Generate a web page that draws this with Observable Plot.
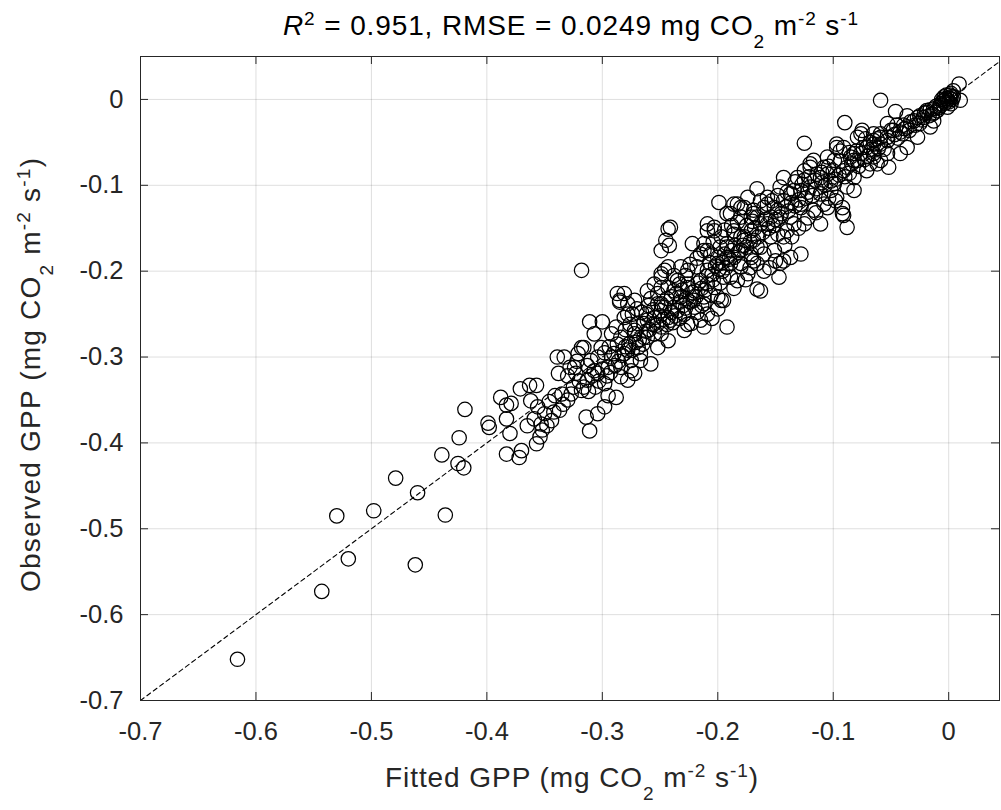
<!DOCTYPE html>
<html><head><meta charset="utf-8">
<script src="https://cdn.jsdelivr.net/npm/d3@7"></script>
<script src="https://cdn.jsdelivr.net/npm/@observablehq/plot@0.6"></script>
<style>html,body{margin:0;padding:0;background:#fff;}</style>
</head><body><div id="chart"></div>
<script>
// ---------- data ----------
const xTicks = [-0.7, -0.6, -0.5, -0.4, -0.3, -0.2, -0.1, 0];
const yTicks = [-0.7, -0.6, -0.5, -0.4, -0.3, -0.2, -0.1, 0];
const xDomain = [-0.7, 0.044];
const yDomain = [-0.7, 0.05];
const oneToOne = [-0.7, 0.05];
const titleParts = [{t:"R", it:true},{t:"2", sup:true},{t:" = 0.951, RMSE = 0.0249 mg CO"},{t:"2", sub:true},{t:" m"},{t:"-2", sup:true},{t:" s"},{t:"-1", sup:true}];
const xLabelParts = [{t:"Fitted GPP (mg CO"},{t:"2", sub:true},{t:" m"},{t:"-2", sup:true},{t:" s"},{t:"-1", sup:true},{t:")"}];
const yLabelParts = [{t:"Observed GPP (mg CO"},{t:"2", sub:true},{t:" m"},{t:"-2", sup:true},{t:" s"},{t:"-1", sup:true},{t:")"}];
// [fitted, observed]
const gpp = [
[-0.616,-0.652],[-0.543,-0.573],[-0.520,-0.535],[-0.462,-0.542],[-0.530,-0.485],[-0.498,-0.479],[-0.436,-0.484],[-0.460,-0.458],[-0.479,-0.441],[-0.439,-0.414],[-0.425,-0.424],[-0.420,-0.429],[-0.424,-0.394],[-0.419,-0.361],[-0.399,-0.377],[-0.398,-0.382],
[-0.318,-0.199],[-0.388,-0.347],[-0.383,-0.356],[-0.379,-0.354],[-0.371,-0.337],[-0.363,-0.333],[-0.357,-0.333],[-0.362,-0.351],[-0.383,-0.372],[-0.380,-0.389],[-0.383,-0.413],[-0.370,-0.409],[-0.372,-0.417],[-0.356,-0.358],[-0.350,-0.366],[-0.353,-0.378],[-0.344,-0.374],[-0.354,-0.393],[-0.357,-0.401],[-0.341,-0.345],[-0.339,-0.300],[-0.338,-0.319],[-0.335,-0.343],[-0.328,-0.312],[-0.323,-0.319],[-0.327,-0.343],[-0.318,-0.339],[-0.314,-0.370],[-0.311,-0.386],[-0.321,-0.296],[-0.316,-0.289],[-0.310,-0.304],[-0.313,-0.327],[-0.304,-0.319],[-0.298,-0.331],[-0.295,-0.345],[-0.288,-0.347],[-0.298,-0.358],[-0.304,-0.366],
[-0.311,-0.259],[-0.300,-0.259],[-0.307,-0.273],[-0.292,-0.273],[-0.287,-0.285],[-0.292,-0.300],[-0.281,-0.296],[-0.284,-0.312],[-0.275,-0.316],[-0.278,-0.327],[-0.287,-0.226],[-0.281,-0.226],[-0.285,-0.236],[-0.272,-0.234],[-0.261,-0.223],[-0.278,-0.250],[-0.269,-0.261],[-0.261,-0.257],[-0.272,-0.273],[-0.264,-0.277],[-0.269,-0.289],[-0.255,-0.273],[-0.252,-0.289],[-0.249,-0.265],[-0.243,-0.254],[-0.246,-0.242],[-0.252,-0.238],[-0.243,-0.219],[-0.246,-0.199],[-0.249,-0.176],[-0.245,-0.164],[-0.243,-0.151],[-0.249,-0.207],[-0.258,-0.308],[-0.267,-0.304],
[-0.242,-0.170],[-0.192,-0.265],[-0.166,-0.221],[-0.285,-0.234],[-0.278,-0.238],[-0.274,-0.250],[-0.281,-0.254],[-0.284,-0.277],[-0.272,-0.269],[-0.264,-0.261],[-0.255,-0.254],[-0.249,-0.246],[-0.261,-0.277],[-0.249,-0.273],[-0.243,-0.281],[-0.278,-0.292],[-0.290,-0.296],[-0.301,-0.289],[-0.318,-0.289],[-0.333,-0.300],[-0.324,-0.312],[-0.307,-0.316],[-0.295,-0.312],[-0.275,-0.304],[-0.267,-0.296],[-0.284,-0.323],[-0.272,-0.319],[-0.241,-0.257],[-0.238,-0.242],[-0.232,-0.230],[-0.249,-0.219],[-0.249,-0.203],[-0.243,-0.195],[-0.235,-0.211],[-0.226,-0.199],[-0.226,-0.219],[-0.229,-0.250],[-0.220,-0.242],[-0.223,-0.261],[-0.229,-0.269],[-0.212,-0.265],[-0.215,-0.257],[-0.209,-0.250],[-0.212,-0.230],[-0.215,-0.211],[-0.218,-0.195],[-0.209,-0.199],[-0.203,-0.219],[-0.195,-0.207],[-0.197,-0.234],[-0.200,-0.191],[-0.206,-0.180],[-0.212,-0.168],[-0.209,-0.153],[-0.203,-0.149],[-0.192,-0.172],[-0.186,-0.184],[-0.180,-0.195],[-0.174,-0.203],[-0.183,-0.211],[-0.189,-0.191],[-0.177,-0.164],[-0.171,-0.153],[-0.186,-0.153],[-0.180,-0.126],[-0.169,-0.133],[-0.166,-0.172],[-0.169,-0.188],[-0.209,-0.145],
[-0.241,-0.149],[-0.222,-0.168],[-0.203,-0.153],[-0.212,-0.176],[-0.255,-0.215],[-0.232,-0.195],[-0.226,-0.215],[-0.238,-0.223],[-0.200,-0.184],[-0.192,-0.168],[-0.180,-0.160],[-0.189,-0.207],[-0.180,-0.191],[-0.171,-0.180],[-0.163,-0.172],[-0.154,-0.160],[-0.157,-0.145],[-0.166,-0.137],[-0.209,-0.215],[-0.200,-0.230],[-0.212,-0.238],[-0.220,-0.223],[-0.249,-0.238],
[-0.199,-0.120],[-0.189,-0.133],[-0.180,-0.137],[-0.169,-0.129],[-0.157,-0.122],[-0.151,-0.126],[-0.174,-0.114],[-0.183,-0.122],[-0.166,-0.104],
[-0.137,-0.110],[-0.128,-0.106],[-0.120,-0.102],[-0.111,-0.110],[-0.102,-0.106],[-0.092,-0.126],[-0.092,-0.133],[-0.088,-0.149],[-0.082,-0.106],[-0.105,-0.126],[-0.111,-0.145],[-0.117,-0.129],[-0.128,-0.126],[-0.134,-0.145],[-0.146,-0.137],[-0.143,-0.160],[-0.128,-0.180],[-0.137,-0.184],[-0.146,-0.191],[-0.147,-0.207],[-0.163,-0.223],[-0.195,-0.234],
[-0.146,-0.102],[-0.143,-0.091],[-0.131,-0.091],[-0.125,-0.083],[-0.120,-0.079],[-0.117,-0.071],[-0.111,-0.091],[-0.108,-0.079],[-0.105,-0.067],[-0.099,-0.071],[-0.097,-0.052],[-0.094,-0.060],[-0.088,-0.079],[-0.082,-0.071],[-0.076,-0.063],[-0.065,-0.067],[-0.052,-0.079],[-0.079,-0.044],[-0.075,-0.036],[-0.071,-0.056],[-0.065,-0.048],[-0.059,-0.040],[-0.053,-0.044],[-0.048,-0.036],[-0.039,-0.030],[-0.030,-0.025],[-0.025,-0.019],[-0.019,-0.015],[-0.013,-0.011],[-0.007,-0.007],[-0.004,-0.001],[0.002,0.003],[0.010,-0.001],[0.009,0.018],[-0.036,-0.019],[-0.046,-0.014],[-0.125,-0.051],[-0.090,-0.027],[-0.059,-0.001],
[-0.091,-0.135],[-0.143,-0.188],[-0.120,-0.075],[-0.097,-0.056],[-0.065,-0.040],[-0.053,-0.028],[-0.062,-0.075],[-0.071,-0.083],[-0.082,-0.091],[-0.085,-0.067],[-0.091,-0.083],[-0.099,-0.098],[-0.097,-0.114],[-0.105,-0.087],[-0.114,-0.087],[-0.125,-0.094],[-0.134,-0.106],[-0.143,-0.118],[-0.128,-0.122],[-0.108,-0.122],[-0.125,-0.145],[-0.137,-0.137],[-0.148,-0.129],[-0.157,-0.114],[-0.154,-0.137],[-0.163,-0.145],[-0.171,-0.137],[-0.177,-0.126],[-0.186,-0.122],[-0.192,-0.133],[-0.197,-0.160],[-0.186,-0.157],[-0.177,-0.160],[-0.169,-0.164],[-0.148,-0.157],[-0.140,-0.153],[-0.209,-0.176],[-0.192,-0.184],[-0.180,-0.176],[-0.171,-0.184],[-0.160,-0.180],[-0.151,-0.176],[-0.166,-0.191],[-0.059,-0.052],[-0.065,-0.063],[-0.053,-0.063],[-0.079,-0.071],[-0.088,-0.102],
[0.002,0.007],[-0.001,-0.001],[-0.004,0.003],[-0.007,-0.005],[-0.010,-0.013],[-0.014,-0.017],[-0.019,-0.013],[-0.022,-0.021],[-0.025,-0.028],[-0.036,-0.032],[-0.040,-0.040],[-0.045,-0.030],[-0.050,-0.036],[-0.053,-0.048],[-0.059,-0.044],[-0.065,-0.052],[-0.076,-0.040],[-0.074,-0.056],[-0.082,-0.063],[-0.091,-0.056],[-0.059,-0.071],[-0.068,-0.075],[-0.036,-0.056],[-0.042,-0.063],[-0.027,-0.044],[-0.016,-0.032],[-0.013,-0.025],[0.002,-0.005],[0.004,0.010],[-0.001,-0.009],[0.004,0.003],
[-0.002,0.001],[0.000,-0.003],[-0.003,-0.004],[0.001,0.001],[-0.005,-0.002],[-0.008,-0.009],[-0.011,-0.008],[-0.012,-0.015],[-0.016,-0.012],[-0.017,-0.019],[-0.021,-0.016],[-0.023,-0.024],[-0.027,-0.021],[-0.029,-0.030],[-0.033,-0.026],[-0.034,-0.036],[-0.038,-0.034],[-0.042,-0.038],[-0.044,-0.045],[-0.047,-0.041],[0.003,0.000],[0.001,0.005],[-0.002,0.005],[-0.006,0.000],
[-0.056,-0.058],[-0.061,-0.057],[-0.067,-0.058],[-0.070,-0.066],[-0.073,-0.070],[-0.078,-0.078],[-0.084,-0.075],[-0.086,-0.086],[-0.090,-0.090],[-0.095,-0.088],[-0.098,-0.093],[-0.102,-0.095],[-0.107,-0.100],[-0.110,-0.097],[-0.115,-0.104],[-0.118,-0.112],[-0.122,-0.108],[-0.124,-0.115],[-0.130,-0.117],[-0.133,-0.124],[-0.136,-0.120],[-0.139,-0.130],[-0.141,-0.125],[-0.145,-0.133],[-0.150,-0.140],[-0.152,-0.147],[-0.156,-0.150],[-0.159,-0.140],[-0.161,-0.155],[-0.165,-0.160],[-0.168,-0.150],[-0.172,-0.166],[-0.175,-0.172],[-0.178,-0.170],[-0.182,-0.178],[-0.185,-0.170],[-0.188,-0.176],[-0.190,-0.186],[-0.194,-0.180],[-0.196,-0.190],[-0.199,-0.198],[-0.202,-0.194],[-0.205,-0.204],[-0.207,-0.190],[-0.210,-0.206],[-0.214,-0.220],[-0.217,-0.214],[-0.219,-0.230],[-0.222,-0.225],[-0.224,-0.236],[-0.227,-0.232],[-0.230,-0.240],[-0.233,-0.236],[-0.235,-0.246],[-0.237,-0.252],[-0.240,-0.248],[-0.244,-0.262],[-0.247,-0.256],[-0.250,-0.252],[-0.253,-0.263],[-0.256,-0.262],[-0.259,-0.268],[-0.262,-0.270],[-0.265,-0.285],[-0.268,-0.280],[-0.271,-0.283],[-0.274,-0.292],[-0.277,-0.285],[-0.280,-0.288],[-0.283,-0.298],[-0.286,-0.305],[-0.289,-0.310],[-0.293,-0.318],[-0.296,-0.322],[-0.300,-0.314],[-0.303,-0.328],[-0.306,-0.335],[-0.309,-0.322],[-0.312,-0.340],[-0.316,-0.335],[-0.320,-0.328],[-0.325,-0.335],[-0.330,-0.350],[-0.334,-0.355],[-0.337,-0.362],[-0.342,-0.364],[-0.346,-0.352],[-0.348,-0.380],[-0.352,-0.385],[-0.359,-0.372],[-0.365,-0.380],
[-0.062,-0.046],[-0.068,-0.050],[-0.072,-0.046],[-0.080,-0.060],[-0.086,-0.062],[-0.094,-0.072],[-0.100,-0.083],[-0.104,-0.078],[-0.110,-0.085],[-0.116,-0.094],[-0.121,-0.090],[-0.127,-0.099],[-0.133,-0.096],[-0.140,-0.108],[-0.148,-0.112],[-0.153,-0.118],[-0.160,-0.126],[-0.163,-0.118],[-0.170,-0.142],[-0.175,-0.147],[-0.183,-0.143],[-0.188,-0.147],[-0.194,-0.152],[-0.198,-0.172],[-0.204,-0.166],[-0.215,-0.180],[-0.218,-0.185],[-0.224,-0.192],[-0.228,-0.205],[-0.233,-0.215],[-0.238,-0.205],[-0.240,-0.230],[-0.244,-0.232],[-0.252,-0.226],[-0.256,-0.245],[-0.260,-0.240],[-0.266,-0.248],[-0.270,-0.244],[-0.276,-0.262],[-0.280,-0.268],[-0.288,-0.265],[-0.294,-0.288],[-0.298,-0.295],[-0.304,-0.300],[-0.313,-0.310],[-0.322,-0.305],[-0.330,-0.322],
[-0.098,-0.118],[-0.104,-0.115],[-0.115,-0.132],[-0.122,-0.138],[-0.130,-0.150],[-0.136,-0.160],[-0.142,-0.170],[-0.150,-0.188],[-0.155,-0.196],[-0.160,-0.200],[-0.172,-0.196],[-0.176,-0.210],[-0.186,-0.220],[-0.200,-0.244],[-0.205,-0.255],
[-0.236,-0.226],[-0.231,-0.222],[-0.228,-0.243],[-0.221,-0.234],[-0.218,-0.248],[-0.214,-0.240],[-0.211,-0.222],[-0.206,-0.228],[-0.204,-0.210],[-0.198,-0.214],[-0.196,-0.200],[-0.193,-0.196],[-0.239,-0.260],[-0.233,-0.255],[-0.226,-0.262],[-0.262,-0.250],[-0.258,-0.232]
];

// ---------- layout / style ----------
const W = 1001, H = 810, mL = 140, mR = 2, mT = 56, mB = 110;
const plotW = W - mL - mR, plotH = H - mT - mB, tickLen = 8;
const axisColor = "#262626";
const font = "'Liberation Sans', Arial, Helvetica, sans-serif";

const chart = Plot.plot({
  width: W, height: H,
  marginLeft: mL, marginRight: mR, marginTop: mT, marginBottom: mB,
  style: {fontFamily: font, fontSize: "25.5px", color: axisColor, background: "#fff"},
  x: {domain: xDomain, label: null},
  y: {domain: yDomain, label: null},
  marks: [
    Plot.gridX(xTicks, {stroke: "#000", strokeOpacity: 0.13}),
    Plot.gridY(yTicks, {stroke: "#000", strokeOpacity: 0.13}),
    Plot.dot(gpp, {x: d => d[0], y: d => d[1], r: 7.2, stroke: "#000", fill: "none", strokeWidth: 1.25}),
    Plot.line(oneToOne, {x: d => d, y: d => d, stroke: "#000", strokeWidth: 1.1, strokeDasharray: "4.5,3.5", clip: true}),
    Plot.tickX(xTicks, {x: d => d, insetTop: plotH - tickLen, stroke: axisColor}),
    Plot.tickX(xTicks, {x: d => d, insetBottom: plotH - tickLen, stroke: axisColor}),
    Plot.tickY(yTicks, {y: d => d, insetRight: plotW - tickLen, stroke: axisColor}),
    Plot.tickY(yTicks, {y: d => d, insetLeft: plotW - tickLen, stroke: axisColor}),
    Plot.frame({stroke: axisColor}),
    Plot.axisX(xTicks, {anchor: "bottom", tickSize: 0, tickPadding: 21, tickFormat: d => String(d)}),
    Plot.axisY(yTicks, {anchor: "left", tickSize: 0, tickPadding: 17, tickFormat: d => String(d)})
  ]
});
document.getElementById("chart").appendChild(chart);

// ---------- rich text (title & axis labels) ----------
function richText(sel, parts, size) {
  let off = 0;
  for (const p of parts) {
    const target = p.sup ? -0.36 * size : p.sub ? 0.45 * size : 0;
    const ts = sel.append("tspan").text(p.t).attr("dy", target - off);
    if (p.sup || p.sub) ts.attr("font-size", 0.68 * size);
    if (p.it) ts.attr("font-style", "italic");
    off = target;
  }
}
const svg = d3.select(chart);
const title = svg.append("text").attr("x", 570.5).attr("y", 35)
  .attr("text-anchor", "middle").attr("font-size", 28).attr("fill", "#000")
  .attr("textLength", 575).attr("lengthAdjust", "spacing");
richText(title, titleParts, 28);
const xl = svg.append("text").attr("x", 571.5).attr("y", 787)
  .attr("text-anchor", "middle").attr("font-size", 28).attr("fill", axisColor)
  .attr("textLength", 373).attr("lengthAdjust", "spacing");
richText(xl, xLabelParts, 28);
const yl = svg.append("text").attr("transform", "translate(40,375) rotate(-90)")
  .attr("text-anchor", "middle").attr("font-size", 28).attr("fill", axisColor)
  .attr("textLength", 434).attr("lengthAdjust", "spacing");
richText(yl, yLabelParts, 28);
</script></body></html>
